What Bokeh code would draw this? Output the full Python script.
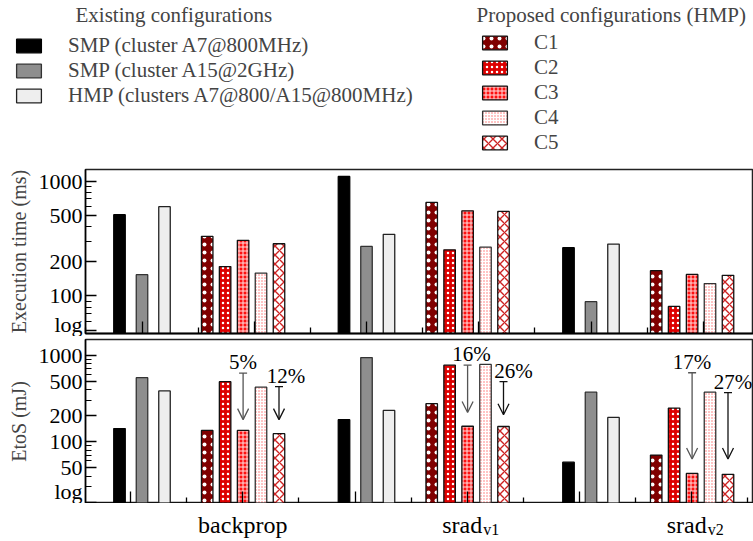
from bokeh.plotting import figure
from bokeh.models import (Range1d, FixedTicker, Legend, LegendItem, Label, Arrow,
                          TeeHead, OpenHead, ColumnDataSource, LinearAxis)
from bokeh.layouts import column
from bokeh.embed import file_html
from bokeh.resources import INLINE
from bokeh.core.properties import value

# ---------------- data ----------------
bench_names = ["backprop", "srad", "srad"]
bench_subs = ["", "v1", "v2"]

series_labels = ["SMP (cluster A7@800MHz)", "SMP (cluster A15@2GHz)",
                 "HMP (clusters A7@800/A15@800MHz)", "C1", "C2", "C3", "C4", "C5"]

# Execution time (ms) per benchmark: backprop, srad_v1, srad_v2
time_smp_a7 = [510, 1100, 263]
time_smp_a15 = [153, 270, 89]
time_hmp = [600, 344, 283]
time_c1 = [331, 653, 166]
time_c2 = [180, 252, 81]
time_c3 = [305, 552, 154]
time_c4 = [158, 266, 128]
time_c5 = [285, 545, 151]

# EtoS (mJ)
etos_smp_a7 = [142, 180, 58]
etos_smp_a15 = [550, 940, 374]
etos_hmp = [387, 230, 191]
etos_c1 = [135, 275, 70]
etos_c2 = [494, 768, 245]
etos_c3 = [135, 151, 43]
etos_c4 = [427, 782, 374]
etos_c5 = [124, 150, 42]

# savings annotations (bottom panel)
saving_text = ["5%", "12%", "16%", "26%", "17%", "27%"]
saving_bench = [0, 0, 1, 1, 2, 2]
saving_series = [5, 7, 5, 7, 5, 7]
saving_from = [622, 433, 768, 494, 627, 370]
saving_to = [180, 180, 218, 205, 63, 63]

time_ticks = [50, 100, 200, 500, 1000]
time_minor = [60, 70, 80, 90, 300, 400, 600, 700, 800, 900]
etos_ticks = [20, 50, 100, 200, 500, 1000]
etos_minor = [30, 40, 60, 70, 80, 90, 300, 400, 600, 700, 800, 900]

# ---------------- styles ----------------
FONT = "Liberation Serif"
styles = [
    dict(fill_color="#000000", line_color="#000000"),
    dict(fill_color="#8e8e8e", line_color="#333333"),
    dict(fill_color="#eeeeee", line_color="#222222"),
    dict(fill_color="#800000", line_color="#111111", hatch_pattern=".", hatch_color="white",
         hatch_scale=8, hatch_weight=1.1),
    dict(fill_color="#dd0000", line_color="#111111", hatch_pattern=".", hatch_color="white",
         hatch_scale=5, hatch_weight=1.1),
    dict(fill_color="#ff1010", line_color="#111111", hatch_pattern="+", hatch_color="#ffe0e0",
         hatch_scale=4, hatch_weight=1),
    dict(fill_color="#ffc4c4", line_color="#333333", hatch_pattern="+", hatch_color="white",
         hatch_scale=3, hatch_weight=1),
    dict(fill_color="white", line_color="#111111", hatch_pattern="x", hatch_color="#cc2222",
         hatch_scale=9, hatch_weight=1.4),
]
arrow_colors = {5: "#555555", 7: "#111111"}
label_nudge_px = [0, 7, 4, 10, 0, 5]

GROUP_STEP = 224.5
FIRST = 119.0
offsets = [0, 22.5, 45, 87.7, 105.6, 123.6, 141.5, 159.5]
BAR_W = 11.5
W, H = 753, 541
X0, X1 = 85, 753


def xpos(g, s):
    return FIRST + g * GROUP_STEP + offsets[s]


def tick_axis(p, ticks, length, first):
    if first:
        ax = p.xaxis[0]
    else:
        ax = LinearAxis()
        p.add_layout(ax, "below")
    ax.ticker = FixedTicker(ticks=[], minor_ticks=ticks)
    ax.minor_tick_in = length
    ax.minor_tick_out = 0
    ax.major_tick_in = 0
    ax.major_tick_out = 0
    ax.minor_tick_line_width = 1.3
    ax.minor_tick_line_color = "black"
    ax.axis_line_width = 1.5
    ax.major_label_standoff = 0


def make_panel(values, ylabel, yr, ticks, minor, xmajor, xminor, height, btop, bbot):
    p = figure(width=W, height=height,
               x_range=Range1d(X0, X1), y_range=Range1d(*yr), y_axis_type="log",
               output_backend="svg", toolbar_location=None,
               min_border_left=X0, min_border_right=0, min_border_top=btop,
               min_border_bottom=bbot)
    p.xgrid.visible = False
    p.ygrid.visible = False
    p.outline_line_color = "#222222"
    p.outline_line_width = 1.5
    for s, vals in enumerate(values):
        src = ColumnDataSource(dict(x=[xpos(g, s) for g in range(3)], top=vals))
        p.vbar(x="x", top="top", bottom=1, width=BAR_W, source=src, line_width=1.3, **styles[s])
    ya = p.yaxis[0]
    ya.ticker = FixedTicker(ticks=ticks, minor_ticks=minor)
    ya.major_label_overrides = {t: ("log" if i == 0 else str(t)) for i, t in enumerate(ticks)}
    ya.major_tick_in = 11
    ya.major_tick_out = 0
    ya.minor_tick_in = 6
    ya.minor_tick_out = 0
    ya.major_tick_line_width = 1.3
    ya.axis_line_width = 1.5
    ya.major_label_text_font = FONT
    ya.major_label_text_font_size = "22px"
    ya.major_label_text_color = "black"
    ya.major_label_standoff = 3
    ya.axis_label = ylabel
    ya.axis_label_text_font = FONT
    ya.axis_label_text_font_size = "20px"
    ya.axis_label_text_font_style = "normal"
    ya.axis_label_standoff = 6
    tick_axis(p, xmajor, 12, True)
    tick_axis(p, xminor, 6, False)
    return p


def bars(*cols):
    return list(cols)


half = GROUP_STEP / 2
label_centers = [FIRST + 123.25 + g * GROUP_STEP for g in range(3)]
bot_major = [label_centers[0] - half + k * half for k in range(6)]
bot_minor = [t + half / 2 for t in bot_major]
top_major = [t + 11.5 for t in bot_major]
top_minor = [t - half / 2 for t in top_major]

p1 = make_panel(bars(time_smp_a7, time_smp_a15, time_hmp, time_c1, time_c2, time_c3, time_c4, time_c5),
                "Execution time (ms)", (47, 1265), time_ticks, time_minor,
                top_major, top_minor, 176, 9, 3)
p2 = make_panel(bars(etos_smp_a7, etos_smp_a15, etos_hmp, etos_c1, etos_c2, etos_c3, etos_c4, etos_c5),
                "EtoS (mJ)", (19.3, 1520), etos_ticks, etos_minor,
                bot_major, bot_minor, 167, 3, 0)

# savings arrows + labels
for i, txt in enumerate(saving_text):
    s = saving_series[i]
    x = xpos(saving_bench[i], s)
    c = arrow_colors[s]
    p2.add_layout(Arrow(start=TeeHead(size=8, line_color=c, line_width=1.3),
                        end=OpenHead(size=11, line_color=c, line_width=1.3),
                        x_start=x, y_start=saving_from[i], x_end=x, y_end=saving_to[i],
                        line_color=c, line_width=1.3))
src_lab = ColumnDataSource(dict(
    x=[xpos(saving_bench[i], saving_series[i]) for i in range(len(saving_text))],
    y=saving_from, text=saving_text, dx=label_nudge_px))
p2.text(x="x", y="y", text="text", x_offset="dx", y_offset=-11, source=src_lab,
        text_font=value(FONT), text_font_size="21px", text_align="center",
        text_baseline="middle", text_color="black")

# ---------------- benchmark label strip ----------------
STRIP_H = H - 160 - 176 - 167
lab = figure(width=W, height=STRIP_H, x_range=p2.x_range, y_range=Range1d(0, STRIP_H),
             x_axis_location=None, y_axis_location=None, output_backend="svg",
             toolbar_location=None, min_border_left=X0, min_border_right=0,
             min_border_top=0, min_border_bottom=0, outline_line_color=None)
lab.xgrid.visible = False
lab.ygrid.visible = False
main_src = ColumnDataSource(dict(
    x=[label_centers[g] + (15 if bench_subs[g] else 0) for g in range(3)],
    text=bench_names,
    align=["right" if bench_subs[g] else "center" for g in range(3)]))
lab.text(x="x", y=STRIP_H - 21, text="text", text_align="align", source=main_src,
         text_font=value(FONT), text_font_size="24px", text_baseline="middle",
         text_color="black")
sub_idx = [g for g in range(3) if bench_subs[g]]
sub_src = ColumnDataSource(dict(x=[label_centers[g] + 16 for g in sub_idx],
                                text=[bench_subs[g] for g in sub_idx]))
lab.text(x="x", y=STRIP_H - 26, text="text", text_align="left", source=sub_src,
         text_font=value(FONT), text_font_size="16px", text_baseline="middle",
         text_color="black")

# ---------------- legend figure ----------------
LEG_H = 160
leg = figure(width=W, height=LEG_H, x_range=Range1d(0, 1), y_range=Range1d(0, 1),
             x_axis_location=None, y_axis_location=None, output_backend="svg",
             toolbar_location=None, min_border=0, min_border_left=0, min_border_right=0,
             min_border_top=0, min_border_bottom=0, outline_line_color=None)
leg.xgrid.visible = False
leg.ygrid.visible = False
has_frame_align = hasattr(leg, "frame_align")
if has_frame_align:
    leg.frame_align = False
rends = []
for s in range(8):
    rends.append(leg.vbar(x=[0], top=[0], bottom=[0], width=0, line_width=1.3, **styles[s]))


def mk_legend(idx, loc, spacing):
    lg = Legend(items=[LegendItem(label=series_labels[i], renderers=[rends[i]]) for i in idx],
                location=loc, orientation="vertical", glyph_width=31, glyph_height=17,
                label_standoff=24, spacing=spacing, padding=0, margin=0, label_height=23,
                label_text_font=FONT, label_text_font_size="21px",
                border_line_color=None, background_fill_alpha=0)
    leg.add_layout(lg, "center")


mk_legend([0, 1, 2], (13, 52), 0)
mk_legend([3, 4, 5, 6, 7], (479, 5), 0)
leg.add_layout(Label(x=75, y=LEG_H - 14, x_units="screen", y_units="screen",
                     text="Existing configurations",
                     text_font=FONT, text_font_size="21px", text_baseline="middle"))
leg.add_layout(Label(x=476, y=LEG_H - 14, x_units="screen", y_units="screen",
                     text="Proposed configurations (HMP)",
                     text_font=FONT, text_font_size="21px", text_baseline="middle"))

if has_frame_align:
    out = column(leg, p1, p2, lab, spacing=0)
else:
    out = [leg, column(p1, p2, lab, spacing=0)]
open("out.html", "w").write(file_html(out, INLINE))
